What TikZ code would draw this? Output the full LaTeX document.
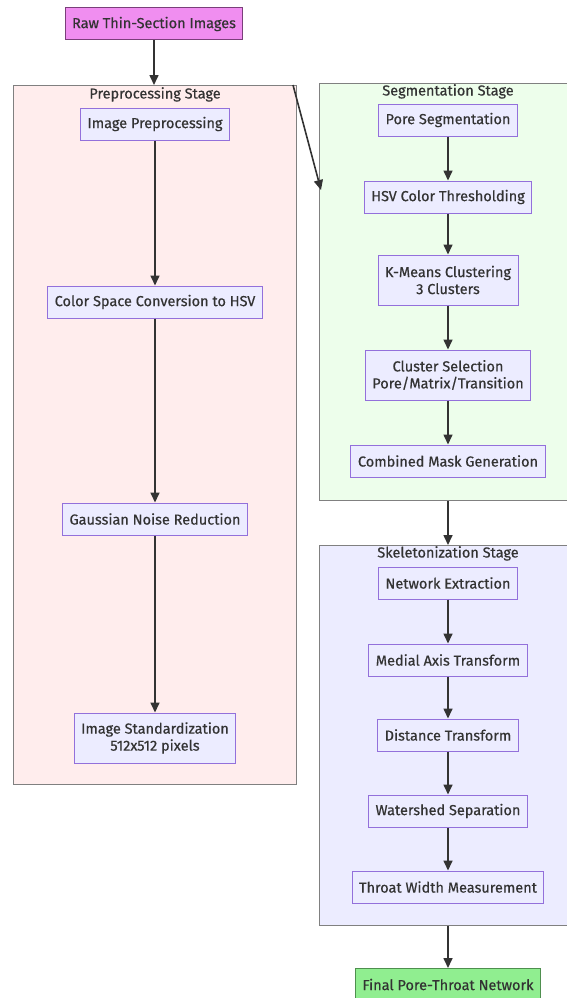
\documentclass[tikz,border=0pt]{standalone}
\usepackage{fontspec}
\setmainfont{Fira Sans}[FakeBold=0.5]
\usetikzlibrary{arrows.meta}
\definecolor{nodefill}{HTML}{ECECFF}
\definecolor{nodeline}{HTML}{9370DB}
\definecolor{prefill}{HTML}{FFEDED}
\definecolor{segfill}{HTML}{EDFEEB}
\definecolor{skelfill}{HTML}{ECECFF}
\definecolor{clusterline}{HTML}{808080}
\definecolor{rawfill}{HTML}{F08EF0}
\definecolor{rawline}{HTML}{7A3F7A}
\definecolor{finalfill}{HTML}{90EE90}
\definecolor{finalline}{HTML}{4F8F4F}
\definecolor{edgecol}{HTML}{333333}
\definecolor{textcol}{HTML}{333333}
\begin{document}
\begin{tikzpicture}[x=1pt, y=-1pt, font=\fontsize{14.5}{17}\selectfont, text=textcol,
  stepbox/.style={draw=nodeline, fill=nodefill, line width=1pt, align=center,
    minimum height=32pt, inner xsep=7pt},
  cluster/.style={draw=clusterline, line width=1pt, anchor=north west, inner sep=0pt},
  title/.style={anchor=north, inner sep=0pt},
  arr/.style={draw=edgecol, line width=1.6pt, -{Triangle[length=10pt,width=9pt]}}]
  \useasboundingbox (0,0) rectangle (567,998);
  \fill[white] (0,0) rectangle (567,998);
  % clusters
  \node [cluster, fill=prefill, minimum width=283pt, minimum height=699pt] (pre) at (13,85) {};
  \node [title] at (155,87) {Preprocessing Stage};
  \node [cluster, fill=segfill, minimum width=250pt, minimum height=417pt] (seg) at (319,83) {};
  \node [title] at (448,84) {Segmentation Stage};
  \node [cluster, fill=skelfill, minimum width=250pt, minimum height=380pt] (skel) at (319,545) {};
  \node [title] at (448,546) {Skeletonization Stage};
  % start and end
  \node [stepbox, draw=rawline, fill=rawfill] (raw) at (154,24) {Raw Thin-Section Images};
  \node [stepbox, draw=finalline, fill=finalfill, anchor=north] (final) at (448,968) {Final Pore-Throat Network};
  % preprocessing
  \node [stepbox] (prep) at (155,124) {Image Preprocessing};
  \node [stepbox] (hsv) at (155,302) {Color Space Conversion to HSV};
  \node [stepbox] (gauss) at (155,519) {Gaussian Noise Reduction};
  \node [stepbox, minimum height=50pt] (std) at (155,738) {Image Standardization\\512x512 pixels};
  % segmentation
  \node [stepbox] (poreseg) at (448,120) {Pore Segmentation};
  \node [stepbox] (thresh) at (448,197) {HSV Color Thresholding};
  \node [stepbox, minimum height=50pt] (kmeans) at (448,280) {K-Means Clustering\\3 Clusters};
  \node [stepbox, minimum height=50pt] (select) at (448,375) {Cluster Selection\\Pore/Matrix/Transition};
  \node [stepbox] (mask) at (448,461) {Combined Mask Generation};
  % skeletonization
  \node [stepbox] (netx) at (448,583) {Network Extraction};
  \node [stepbox] (medial) at (448,660) {Medial Axis Transform};
  \node [stepbox] (dist) at (448,735) {Distance Transform};
  \node [stepbox] (water) at (448,811) {Watershed Separation};
  \node [stepbox] (throat) at (448,887) {Throat Width Measurement};
  % edges
  \coordinate (prestart) at (293,85);
  \coordinate (segin) at (321,190);
  \draw [arr] (raw) -- (raw |- pre.north);
  \draw [arr] (prestart) -- (segin);
  \draw [arr] (prep) -- (hsv);
  \draw [arr] (hsv) -- (gauss);
  \draw [arr] (gauss) -- (std);
  \draw [arr] (poreseg) -- (thresh);
  \draw [arr] (thresh) -- (kmeans);
  \draw [arr] (kmeans) -- (select);
  \draw [arr] (select) -- (mask);
  \draw [arr] (seg.south -| mask) -- (skel.north -| mask);
  \draw [arr] (netx) -- (medial);
  \draw [arr] (medial) -- (dist);
  \draw [arr] (dist) -- (water);
  \draw [arr] (water) -- (throat);
  \draw [arr] (skel.south -| final) -- (final);
\end{tikzpicture}
\end{document}
